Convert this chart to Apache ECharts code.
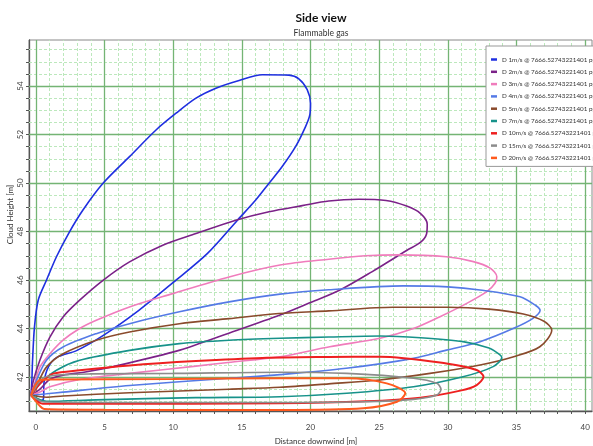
<!DOCTYPE html>
<html>
<head>
<meta charset="utf-8">
<script src="https://cdn.jsdelivr.net/npm/echarts@6/dist/echarts.min.js"></script>
<style>
  html, body { margin: 0; padding: 0; background: #fff; }
  #chart { width: 593px; height: 446px; }
</style>
</head>
<body>
<div id="chart"></div>
<script>
// axis ticks
const xLabelValues = [0, 5, 10, 15, 20, 25, 30, 35, 40];
const yLabelValues = [42, 44, 46, 48, 50, 52, 54];

// cloud contours: [distance, height]
const d1 = [[-0.35,41.25],[-0.3,41.7],[-0.24,42.69],[-0.1,44.07],[0.17,45.17],[0.77,45.99],[1.5,46.96],[2.42,47.96],[3.43,48.89],[4.89,49.99],[6.82,51.09],[8.75,52.19],[10.21,52.88],[11.66,53.5],[13.11,53.91],[14.8,54.23],[16.49,54.47],[18.43,54.45],[19.15,54.3],[19.76,53.85],[20.0,53.29],[19.95,52.81],[19.64,52.33],[18.91,51.5],[17.94,50.68],[16.98,49.99],[16.01,49.3],[14.68,48.47],[12.5,47.1],[10.0,45.9],[7.5,44.75],[5.0,43.75],[3.0,43.1],[1.5,42.8],[0.9,42.4],[0.6,41.8],[0.55,41.1],[0.2,41.02],[-0.35,41.25]];
const d2 = [[-0.35,41.25],[-0.2,41.8],[0.29,42.69],[1.02,43.65],[1.98,44.48],[3.19,45.17],[4.89,45.99],[6.82,46.75],[9.24,47.44],[11.66,47.92],[14.56,48.47],[16.98,48.82],[19.4,49.07],[21.33,49.26],[23.5,49.33],[25.5,49.28],[27.0,49.05],[28.0,48.75],[28.5,48.3],[28.45,47.9],[28.0,47.55],[27.0,47.22],[24.5,46.35],[22.15,45.59],[19.9,45.05],[17.78,44.56],[14.0,43.8],[10.49,43.11],[8.0,42.75],[5.63,42.43],[3.5,42.2],[1.99,42.08],[1.0,41.9],[0.3,41.5],[-0.35,41.25]];
const d3 = [[-0.35,41.25],[-0.1,41.7],[0.29,42.41],[1.02,42.96],[1.98,43.52],[3.19,44.0],[4.4,44.34],[6.82,44.89],[9.96,45.44],[14.07,46.13],[17.78,46.62],[21.33,46.86],[24.0,47.0],[26.5,47.04],[29.9,46.96],[31.86,46.76],[33.08,46.49],[33.57,46.14],[33.44,45.87],[32.84,45.52],[31.38,45.04],[29.43,44.49],[27.5,44.0],[25.06,43.6],[21.4,43.25],[17.78,42.84],[14.0,42.6],[11.66,42.45],[6.82,42.15],[3.19,41.9],[1.02,41.6],[0.29,41.38],[-0.35,41.25]];
const d4 = [[-0.35,41.25],[0.0,41.8],[0.77,42.69],[1.98,43.24],[4.4,43.79],[6.82,44.2],[10.45,44.69],[14.07,45.1],[17.78,45.42],[21.33,45.6],[26.76,45.76],[30.0,45.72],[32.35,45.59],[35.26,45.31],[36.4,44.95],[36.72,44.75],[36.2,44.42],[34.8,44.01],[32.35,43.46],[29.9,43.11],[27.5,42.77],[22.6,42.36],[17.78,42.1],[14.07,41.95],[6.82,41.65],[1.98,41.38],[0.77,41.31],[-0.35,41.25]];
const d5 = [[-0.35,41.25],[0.1,41.7],[0.77,42.41],[1.98,42.96],[4.4,43.52],[6.82,43.86],[10.45,44.2],[14.07,44.41],[17.7,44.62],[21.33,44.73],[26.0,44.88],[30.0,44.88],[33.0,44.8],[35.5,44.6],[37.0,44.3],[37.57,43.94],[36.7,43.25],[34.8,42.84],[32.35,42.5],[28.7,42.15],[25.06,41.88],[21.33,41.72],[17.78,41.58],[14.07,41.5],[6.82,41.35],[1.98,41.22],[0.77,41.17],[-0.35,41.25]];
const d7 = [[-0.35,41.25],[0.29,41.72],[1.5,42.28],[3.19,42.69],[6.82,43.1],[10.45,43.38],[14.07,43.52],[17.78,43.6],[21.33,43.65],[25.06,43.69],[28.0,43.62],[31.1,43.46],[33.0,43.2],[33.6,43.0],[33.93,42.81],[33.3,42.43],[31.1,42.01],[27.5,41.6],[22.64,41.33],[17.78,41.19],[11.66,41.15],[4.4,41.06],[0.77,41.0],[-0.35,41.25]];
const d10 = [[-0.35,41.25],[0.1,41.6],[0.53,41.86],[1.26,42.14],[3.19,42.28],[6.82,42.48],[11.66,42.66],[16.49,42.79],[21.33,42.83],[25.06,42.84],[29.9,42.56],[32.1,42.29],[32.6,42.01],[32.1,41.67],[31.0,41.45],[28.0,41.15],[24.0,41.0],[17.78,40.92],[5.0,40.9],[0.5,40.9],[0.1,41.0],[-0.35,41.25]];
const d15 = [[-0.35,41.25],[0.5,41.95],[1.5,42.08],[4.0,42.13],[10.0,42.15],[17.78,42.2],[22.64,42.15],[27.5,41.95],[29.2,41.74],[29.5,41.49],[29.2,41.26],[27.5,41.08],[24.0,40.98],[17.0,40.95],[5.0,40.95],[0.6,40.97],[-0.35,41.25]];
const d20 = [[-0.35,41.25],[0.2,41.85],[1.0,41.9],[10.0,41.92],[17.78,41.95],[22.64,41.95],[25.55,41.74],[26.9,41.33],[26.3,40.98],[23.85,40.71],[17.78,40.64],[5.0,40.65],[0.6,40.68],[0.3,40.8],[-0.35,41.25]];

const seriesNames = ['D 1m/s', 'D 2m/s', 'D 3m/s', 'D 4m/s', 'D 5m/s', 'D 7m/s', 'D 10m/s', 'D 15m/s', 'D 20m/s'];
const seriesData = [d1, d2, d3, d4, d5, d7, d10, d15, d20];
const seriesColors = ['#1f2fe0', '#7b2288', '#f07cbc', '#557ae6', '#8a4a2c', '#17928a', '#ee2020', '#8c8c8c', '#ff5a1e'];
const seriesWidths = [1.6, 1.6, 1.6, 1.6, 1.6, 1.6, 2, 1.6, 2];
const concentration = '7666.52743221401 ppm';

const chartDom = document.getElementById('chart');
const chart = echarts.init(chartDom);

const fontFamily = 'Lato, "Noto Sans", sans-serif';

// grid lines drawn as mark lines so they don't depend on the axis min
const xMinor = [];
for (let v = 0; v <= 40; v++) xMinor.push(v);
const yMinor = [];
for (let v = 41; v <= 55.5; v += 0.5) yMinor.push(v);

const minorStyle = { color: '#bce8bc', width: 1, type: [3, 2] };
const majorStyle = { color: '#74b474', width: 1.3, type: 'solid' };

const gridLines = [];
xMinor.filter(v => v % 5 !== 0).forEach(v => gridLines.push({ xAxis: v, lineStyle: minorStyle }));
yMinor.filter(v => v % 2 !== 0).forEach(v => gridLines.push({ yAxis: v, lineStyle: minorStyle }));
xLabelValues.forEach(v => gridLines.push({ xAxis: v, lineStyle: majorStyle }));
yLabelValues.forEach(v => gridLines.push({ yAxis: v, lineStyle: majorStyle }));

const seriesList = seriesData.map((d, i) => ({
  name: seriesNames[i] + ' @ ' + concentration,
  type: 'line',
  data: d,
  showSymbol: false,
  symbol: 'none',
  smooth: 0.3,
  z: 3,
  lineStyle: { width: seriesWidths[i], color: seriesColors[i] },
  itemStyle: { color: seriesColors[i] }
}));

seriesList.unshift({
  name: 'grid',
  type: 'line',
  data: [],
  silent: true,
  markLine: {
    silent: true,
    z: 1,
    symbol: ['none', 'none'],
    label: { show: false },
    animation: false,
    data: gridLines
  }
});

const option = {
  animation: false,
  backgroundColor: '#fff',
  title: {
    text: 'Side view',
    subtext: 'Flammable gas',
    left: 316,
    top: 7,
    textAlign: 'center',
    itemGap: 5,
    textStyle: { fontFamily, fontSize: 12, fontWeight: 'bold', color: '#111' },
    subtextStyle: { fontFamily, fontSize: 8.5, color: '#333' }
  },
  legend: {
    data: seriesList.slice(1).map(s => s.name),
    orient: 'vertical',
    left: 486,
    top: 46,
    padding: [9, 8, 4, 5],
    itemGap: 3.3,
    itemWidth: 6,
    itemHeight: 2.5,
    itemTextGap: 3,
    icon: 'rect',
    backgroundColor: '#fff',
    borderColor: '#999',
    borderWidth: 1,
    textStyle: { fontFamily, fontSize: 6.3, lineHeight: 9, color: '#333' }
  },
  grid: {
    left: 29,
    right: 1,
    top: 40,
    bottom: 35,
    outerBoundsMode: 'none',
    containLabel: false,
    show: true,
    borderColor: '#888',
    borderWidth: 1,
    backgroundColor: '#fff'
  },
  xAxis: {
    type: 'value',
    min: -0.5,
    max: 40.5,
    name: 'Distance downwind [m]',
    nameLocation: 'middle',
    nameGap: 26,
    nameMoveOverlap: false,
    nameTextStyle: { fontFamily, fontSize: 8, color: '#333', padding: [0, 0, 0, 11] },
    axisLine: { show: true, onZero: false, lineStyle: { color: '#555', width: 1.3 } },
    axisTick: { show: true, length: 3, customValues: xMinor, lineStyle: { color: '#555' } },
    axisLabel: { customValues: xLabelValues, fontFamily, fontSize: 8, color: '#444', margin: 12 },
    splitLine: { show: false }
  },
  yAxis: {
    type: 'value',
    min: 40.6,
    max: 55.9,
    name: 'Cloud Height [m]',
    nameLocation: 'middle',
    nameGap: 15,
    nameMoveOverlap: false,
    nameRotate: 90,
    nameTextStyle: { fontFamily, fontSize: 8, color: '#333', padding: [0, 0, 0, 22] },
    axisLine: { show: true, onZero: false, lineStyle: { color: '#555', width: 1.3 } },
    axisTick: { show: true, length: 3, customValues: yMinor, lineStyle: { color: '#555' } },
    axisLabel: { customValues: yLabelValues, rotate: 90, fontFamily, fontSize: 8, color: '#444', margin: 5 },
    splitLine: { show: false }
  },
  series: seriesList
};

chart.setOption(option);
window.addEventListener('resize', () => chart.resize());
</script>
</body>
</html>
